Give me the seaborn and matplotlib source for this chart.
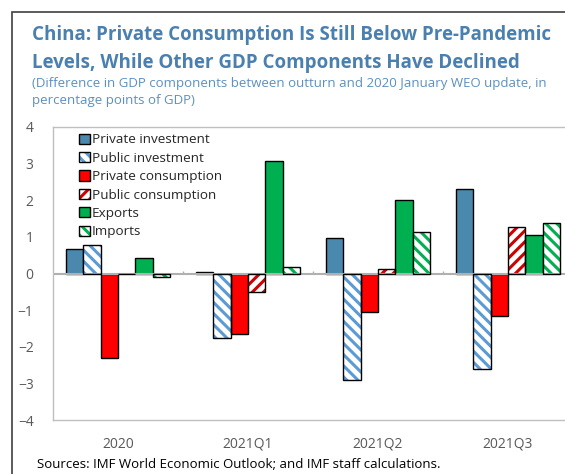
import numpy as np
import pandas as pd
import matplotlib.pyplot as plt
import seaborn as sns
from matplotlib.patches import Patch, Rectangle

# data (percentage points of GDP)
periods = ['2020', '2021Q1', '2021Q2', '2021Q3']
components = ['Private investment', 'Public investment', 'Private consumption',
              'Public consumption', 'Exports', 'Imports']
private_investment = [0.68, 0.05, 0.97, 2.30]
public_investment = [0.77, -1.75, -2.92, -2.60]
private_consumption = [-2.30, -1.65, -1.05, -1.17]
public_consumption = [-0.01, -0.50, 0.12, 1.28]
exports = [0.41, 3.07, 2.02, 1.05]
imports = [-0.10, 0.17, 1.12, 1.37]

values = [private_investment, public_investment, private_consumption,
          public_consumption, exports, imports]
df = pd.DataFrame([(p, c, v[i]) for c, v in zip(components, values)
                   for i, p in enumerate(periods)],
                  columns=['period', 'component', 'value'])

colors = ['#4a89ad', '#5b9bd5', '#ff0000', '#d00000', '#00b050', '#00b050']
hatches = [None, '\\\\\\', None, '///', None, '\\\\\\']

sns.set_style('white')
plt.rcParams['font.family'] = ['Open Sans', 'DejaVu Sans']
plt.rcParams['hatch.linewidth'] = 2.2

fig = plt.figure(figsize=(5.65, 4.74), dpi=100)
ax = fig.add_axes([53 / 565, 1 - 420 / 474, 520 / 565, 293 / 474])

sns.barplot(data=df, x='period', y='value', hue='component', hue_order=components,
            order=periods, palette=colors, ax=ax, legend=False, width=0.8,
            edgecolor='black', linewidth=1, saturation=1)

# hatched bars: coloured hatch on white, black outline drawn on top
for cont, col, h in zip(ax.containers, colors, hatches):
    for bar in cont:
        if h:
            bar.set_facecolor('white')
            bar.set_edgecolor(col)
            bar.set_hatch(h)
            bar.set_linewidth(0)
            ax.add_patch(Rectangle(bar.get_xy(), bar.get_width(), bar.get_height(),
                                   fill=False, edgecolor='black', linewidth=1, zorder=3))

ax.set_ylim(-4, 4)
ax.set_xlim(-0.5, len(periods) - 0.5)
ax.set_yticks(range(-4, 5))
ax.axhline(0, color='#b0b0b0', lw=1.5, zorder=1)
ax.vlines(np.arange(len(periods) - 1) + 0.5, 0, 0.08, color='#b0b0b0', lw=1)
for s in ['top', 'bottom', 'left', 'right']:
    ax.spines[s].set_color('#bfbfbf')
    ax.spines[s].set_linewidth(1)
ax.tick_params(axis='both', length=0, labelsize=10, labelcolor='#595959')
ax.tick_params(axis='x', pad=12)
ax.tick_params(axis='y', pad=14)
ax.set_xlabel('')
ax.set_ylabel('')

handles = []
for n, c, h in zip(components, colors, hatches):
    if h:
        handles.append((Patch(facecolor='white', edgecolor=c, hatch=h, linewidth=0),
                        Patch(fill=False, edgecolor='black', linewidth=1)))
    else:
        handles.append(Patch(facecolor=c, edgecolor='black', linewidth=1))
ax.legend(handles=handles, labels=components, loc='upper left',
          bbox_to_anchor=(0.05, 0.978), frameon=False, fontsize=9.7,
          handlelength=0.8, handleheight=0.8, handletextpad=0.15,
          labelspacing=0.4, borderaxespad=0, borderpad=0)

# outer frame
fig.add_artist(Rectangle((12 / 565, -0.1), 1.2, 1 - 12 / 474 + 0.1, transform=fig.transFigure,
                         fill=False, edgecolor='#404040', linewidth=1.2))

fig.text(32 / 565, 1 - 40 / 474, 'China: Private Consumption Is Still Below Pre-Pandemic',
         fontsize=13.5, fontweight='bold', color='#4a80b0', va='baseline')
fig.text(32 / 565, 1 - 68 / 474, 'Levels, While Other GDP Components Have Declined',
         fontsize=13.5, fontweight='bold', color='#4a80b0', va='baseline')
fig.text(32 / 565, 1 - 87 / 474,
         '(Difference in GDP components between outturn and 2020 January WEO update, in',
         fontsize=9.5, color='#5b90c0', va='baseline')
fig.text(32 / 565, 1 - 104 / 474, 'percentage points of GDP)',
         fontsize=9.5, color='#5b90c0', va='baseline')
fig.text(37 / 565, 1 - 468 / 474,
         'Sources: IMF World Economic Outlook; and IMF staff calculations.',
         fontsize=9.5, color='black', va='baseline')

fig.savefig('out.png', dpi=100)
